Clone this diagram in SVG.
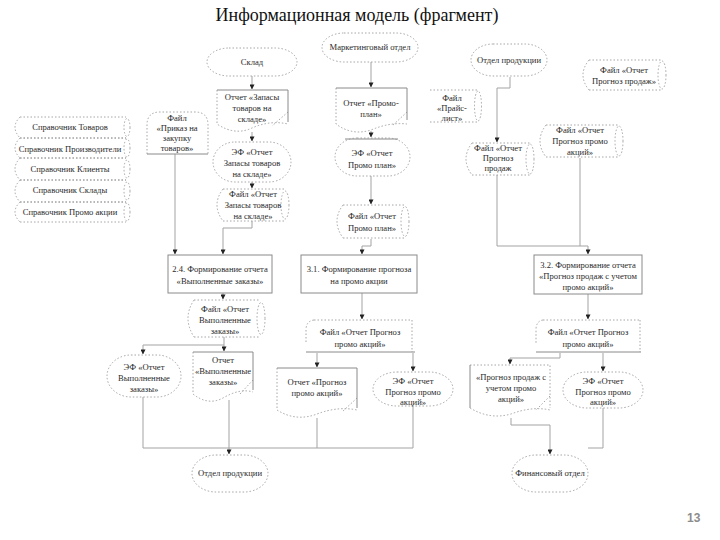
<svg xmlns="http://www.w3.org/2000/svg" width="720" height="540" viewBox="0 0 720 540">
<defs>
<style>
.dash{fill:none;stroke:#8f8f8f;stroke-width:0.8;stroke-dasharray:1.5 2}
.sol{fill:none;stroke:#8a8a8a;stroke-width:1}
.proc{fill:#fff;stroke:#8a8a8a;stroke-width:1}
.conn{fill:none;stroke:#a3a3a3;stroke-width:1}
.t{font-family:'Liberation Serif','DejaVu Serif',serif;font-size:8.6px;fill:#2a2a2a;text-anchor:middle}
.title{font-family:'Liberation Serif','DejaVu Serif',serif;font-size:18px;fill:#111;text-anchor:middle}
.pg{font-family:'Liberation Sans',sans-serif;font-weight:bold;font-size:12px;fill:#8c8c8c}
</style>
<marker id="ar" viewBox="0 0 6 6" refX="5.5" refY="3" markerWidth="5" markerHeight="5" orient="auto">
<path d="M0,0 L6,3 L0,6 Z" fill="#222"/>
</marker>
</defs>
<rect width="720" height="540" fill="#fff"/>
<text class="title" x="357" y="21">Информационная модель (фрагмент)</text>

<g id="connectors" class="conn">
<path d="M252,76 V89" marker-end="url(#ar)"/>
<path d="M252,132 V141" marker-end="url(#ar)"/>
<path d="M252,182 V188" marker-end="url(#ar)"/>
<path d="M252,221 V228 H223 V254" marker-end="url(#ar)"/>
<path d="M175,154 V254" marker-end="url(#ar)"/>
<path d="M371,62 V87" marker-end="url(#ar)"/>
<path d="M371,131 V137" marker-end="url(#ar)"/>
<path d="M371,176 V204" marker-end="url(#ar)"/>
<path d="M371,239 V246 H362 V254" marker-end="url(#ar)"/>
<path d="M510,77 V88 H497 V142" marker-end="url(#ar)"/>
<path d="M497,175 V246 H588 V254" marker-end="url(#ar)"/>
<path d="M580,158 V246"/>
<path d="M223,293 V299" marker-end="url(#ar)"/>
<path d="M362,293 V319" marker-end="url(#ar)"/>
<path d="M588,294 V319" marker-end="url(#ar)"/>
<path d="M224,337 V345 H143 V354" marker-end="url(#ar)"/>
<path d="M224,345 V351" marker-end="url(#ar)"/>
<path d="M317,353 V367" marker-end="url(#ar)"/>
<path d="M413,353 V371" marker-end="url(#ar)"/>
<path d="M560,353 V358 H510 V364" marker-end="url(#ar)"/>
<path d="M603,353 V371" marker-end="url(#ar)"/>
<path d="M143,397 V448 H229"/>
<path d="M229,400 V454" marker-end="url(#ar)"/>
<path d="M317,418 V448 H229"/>
<path d="M413,405 V448 H317"/>
<path d="M511,418 V425 H550 V454" marker-end="url(#ar)"/>
<path d="M603,408 V448 H588"/>
</g>

<g id="ref-goods"><path class="dash" d="M20,117 H126 M20,138 H126 M20,117 Q10,127 20,138"/><ellipse class="dash" cx="127" cy="127.5" rx="3" ry="9"/><text class="t" x="70" y="130">Справочник  Товаров</text></g>
<g id="ref-producers"><path class="dash" d="M20,138 H126 M20,158 H126 M20,138 Q10,148 20,158"/><ellipse class="dash" cx="127" cy="148" rx="3" ry="9"/><text class="t" x="70" y="152">Справочник  Производители</text></g>
<g id="ref-clients"><path class="dash" d="M20,158 H126 M20,180 H126 M20,158 Q10,169 20,180"/><ellipse class="dash" cx="127" cy="169" rx="3" ry="9"/><text class="t" x="70" y="172">Справочник  Клиенты</text></g>
<g id="ref-stores"><path class="dash" d="M20,180 H126 M20,202 H126 M20,180 Q10,191 20,202"/><ellipse class="dash" cx="127" cy="191" rx="3" ry="9"/><text class="t" x="70" y="193">Справочник  Склады</text></g>
<g id="ref-promo"><path class="dash" d="M20,202 H126 M20,222 H126 M20,202 Q10,212 20,222"/><ellipse class="dash" cx="127" cy="212" rx="3" ry="9"/><text class="t" x="70" y="215">Справочник  Промо акции</text></g>

<g id="sklad"><rect class="dash" x="207" y="48" width="90" height="28" rx="22" ry="14"/><text class="t" x="252" y="65">Склад</text></g>
<g id="doc-zapasy"><path class="sol" d="M217,90 H288 V122"/><path class="dash" d="M217,90 V124 Q235,136 252,128 Q270,120 288,124 M288,112 L272,126"/><text class="t" x="252" y="100">Отчет «Запасы</text><text class="t" x="252" y="111">товаров на</text><text class="t" x="252" y="122">складе»</text></g>
<g id="ef-zapasy"><rect class="dash" x="213" y="142" width="78" height="40" rx="22" ry="20"/><text class="t" x="252" y="155">ЭФ «Отчет</text><text class="t" x="252" y="166">Запасы товаров</text><text class="t" x="252" y="177">на складе»</text></g>
<g id="file-zapasy"><path class="dash" d="M223,189 H285 M223,221 H285 M223,189 Q211,205 223,221"/><ellipse class="dash" cx="285" cy="205" rx="4" ry="14"/><text class="t" x="253" y="197">Файл «Отчет</text><text class="t" x="253" y="208">Запасы товаров</text><text class="t" x="253" y="219">на складе»</text></g>
<g id="file-prikaz"><path class="dash" d="M147,154 V125 Q147,112 160,112 H195 Q208,112 208,125 V154"/><path class="sol" d="M147,154 H208"/><text class="t" x="177" y="121">Файл</text><text class="t" x="177" y="131">«Приказ на</text><text class="t" x="177" y="141">закупку</text><text class="t" x="177" y="151">товаров»</text></g>

<g id="marketing"><rect class="dash" x="322" y="33" width="96" height="29" rx="22" ry="14.5"/><text class="t" x="370" y="50">Маркетинговый отдел</text></g>
<g id="doc-promoplan"><path class="sol" d="M336,88 H407 V120"/><path class="dash" d="M336,88 V124 Q352,136 371,130 Q390,122 407,124 M407,112 L392,126"/><text class="t" x="371" y="106">Отчет «Промо-</text><text class="t" x="371" y="117">план»</text></g>
<g id="ef-promoplan"><path class="sol" d="M345,139 H398"/><rect class="dash" x="335" y="138" width="75" height="38" rx="22" ry="19"/><text class="t" x="372" y="156">ЭФ «Отчет</text><text class="t" x="372" y="168">Промо план»</text></g>
<g id="file-promoplan"><path class="dash" d="M343,205 H405 M343,238 H405 M343,205 Q331,221 343,238"/><ellipse class="dash" cx="405" cy="221.5" rx="4" ry="15"/><text class="t" x="372" y="219">Файл «Отчет</text><text class="t" x="372" y="231">Промо план»</text></g>

<g id="prod-dept-top"><rect class="dash" x="471" y="44" width="76" height="32" rx="22" ry="16"/><text class="t" x="509" y="63">Отдел продукции</text></g>
<g id="file-price"><path class="dash" d="M430,90 H478 M430,122 H478"/><ellipse class="dash" cx="478" cy="106" rx="3.5" ry="15"/><text class="t" x="452" y="101">Файл</text><text class="t" x="452" y="111">«Прайс-</text><text class="t" x="452" y="121">лист»</text></g>
<g id="file-forecast-sales"><path class="dash" d="M472,143 H530 M472,175 H530 M472,143 Q460,159 472,175"/><ellipse class="dash" cx="530" cy="159" rx="4" ry="15"/><text class="t" x="498" y="151">Файл «Отчет</text><text class="t" x="498" y="161">Прогноз</text><text class="t" x="498" y="171">продаж</text></g>
<g id="file-forecast-promo-top"><path class="dash" d="M546,125 H619 M546,157 H619 M546,125 Q534,141 546,157"/><ellipse class="dash" cx="619" cy="141" rx="4" ry="15"/><text class="t" x="580" y="133">Файл «Отчет</text><text class="t" x="580" y="144">Прогноз промо</text><text class="t" x="580" y="155">акций»</text></g>
<g id="file-forecast-sales-top"><path class="dash" d="M589,60 H662 M589,90 H662 M589,60 Q577,75 589,90"/><ellipse class="dash" cx="662" cy="75" rx="4" ry="14"/><text class="t" x="624" y="73">Файл «Отчет</text><text class="t" x="624" y="84">Прогноз продаж»</text></g>

<g id="proc-24"><rect class="proc" x="168" y="255" width="104" height="38"/><text class="t" x="220" y="272">2.4. Формирование отчета</text><text class="t" x="220" y="284">«Выполненные заказы»</text></g>
<g id="proc-31"><rect class="proc" x="301" y="255" width="116" height="38"/><text class="t" x="359" y="272">3.1. Формирование прогноза</text><text class="t" x="359" y="284">на промо акции</text></g>
<g id="proc-32"><rect class="proc" x="534" y="255" width="108" height="39"/><text class="t" x="588" y="268">3.2. Формирование отчета</text><text class="t" x="588" y="279">«Прогноз продаж с учетом</text><text class="t" x="588" y="290">промо акций»</text></g>

<g id="file-done"><path class="dash" d="M194,300 H260 M194,337 H260 M194,300 Q182,318 194,337"/><ellipse class="dash" cx="261" cy="318.5" rx="4" ry="16"/><text class="t" x="225" y="312">Файл «Отчет</text><text class="t" x="225" y="323">Выполненные</text><text class="t" x="225" y="334">заказы»</text></g>
<g id="file-promo-mid"><path class="dash" d="M314,320 Q306,321 306,330 V344"/><path class="dash" d="M314,320 H412 M412,320 V352"/><path class="sol" d="M306,352 H415"/><text class="t" x="360" y="335">Файл «Отчет Прогноз</text><text class="t" x="360" y="347">промо акций»</text></g>
<g id="file-promo-right"><path class="dash" d="M543,320 Q536,321 536,330 V344"/><path class="dash" d="M543,320 H640 M640,320 V352"/><path class="sol" d="M536,352 H641"/><text class="t" x="588" y="335">Файл «Отчет Прогноз</text><text class="t" x="588" y="347">промо акций»</text></g>

<g id="ef-done"><rect class="dash" x="107" y="355" width="74" height="42" rx="24" ry="21"/><text class="t" x="144" y="370">ЭФ «Отчет</text><text class="t" x="144" y="381">Выполненные</text><text class="t" x="144" y="392">заказы»</text></g>
<g id="doc-done"><path class="sol" d="M193,352 H253 V390"/><path class="dash" d="M193,352 V394 Q208,406 223,398 Q240,388 253,392 M253,380 L240,394"/><text class="t" x="223" y="363">Отчет</text><text class="t" x="223" y="374">«Выполненные</text><text class="t" x="223" y="385">заказы»</text></g>
<g id="doc-forecast-promo"><path class="sol" d="M277,368 H357 V408"/><path class="dash" d="M277,368 V410 Q296,422 317,414 Q338,406 357,410 M357,398 L342,412"/><text class="t" x="317" y="385">Отчет «Прогноз</text><text class="t" x="317" y="396">промо акций»</text></g>
<g id="ef-promo-mid"><rect class="dash" x="373" y="372" width="80" height="34" rx="24" ry="17"/><text class="t" x="413" y="384">ЭФ «Отчет</text><text class="t" x="413" y="395">Прогноз промо</text><text class="t" x="413" y="405">акций»</text></g>
<g id="doc-sales-promo"><path class="sol" d="M470,365 V408"/><path class="dash" d="M470,365 H550 V408 M470,408 Q490,420 511,414 Q532,406 550,410 M550,396 L536,410"/><text class="t" x="511" y="380">«Прогноз продаж с</text><text class="t" x="511" y="391">учетом промо</text><text class="t" x="511" y="402">акций»</text></g>
<g id="ef-promo-right"><rect class="dash" x="563" y="372" width="80" height="36" rx="24" ry="18"/><text class="t" x="603" y="384">ЭФ «Отчет</text><text class="t" x="603" y="395">Прогноз промо</text><text class="t" x="603" y="405">акций»</text></g>

<g id="prod-dept-bottom"><rect class="dash" x="192" y="455" width="76" height="37" rx="24" ry="18.5"/><text class="t" x="230" y="476">Отдел продукции</text></g>
<g id="finance"><rect class="dash" x="512" y="455" width="76" height="37" rx="24" ry="18.5"/><text class="t" x="550" y="476">Финансовый отдел</text></g>

<text class="pg" x="687" y="522">13</text>
</svg>
